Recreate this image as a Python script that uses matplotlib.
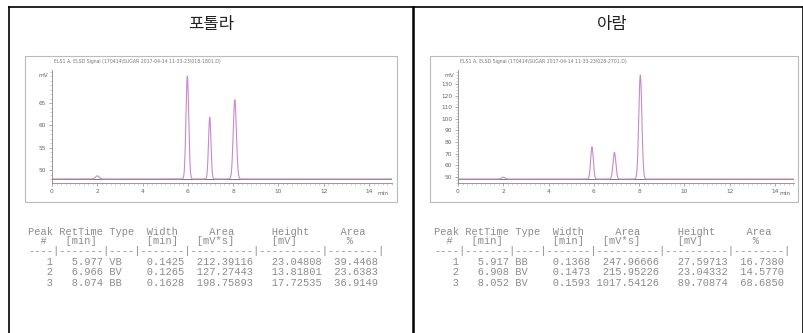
import numpy as np
import matplotlib
matplotlib.use("Agg")
import matplotlib.pyplot as plt
from matplotlib.lines import Line2D
from matplotlib.patches import Rectangle
from matplotlib.ticker import MultipleLocator

# ---------------- data ----------------
titles = ["포톨라", "아람"]
signal_names = [
    "ELS1 A, ELSD Signal (170414\\SUGAR 2017-04-14 11-33-23\\018-1801.D)",
    "ELS1 A, ELSD Signal (170414\\SUGAR 2017-04-14 11-33-23\\028-2701.D)",
]
peak_no = [1, 2, 3]
ret_left = [5.977, 6.966, 8.074]
type_left = ["VB", "BV", "BB"]
width_left = [0.1425, 0.1265, 0.1628]
area_left = [212.39116, 127.27443, 198.75893]
height_left = [23.04808, 13.81801, 17.72535]
pct_left = [39.4468, 23.6383, 36.9149]

ret_right = [5.917, 6.908, 8.052]
type_right = ["BB", "BV", "BV"]
width_right = [0.1368, 0.1473, 0.1593]
area_right = [247.96666, 215.95226, 1017.54126]
height_right = [27.59713, 23.04332, 89.70874]
pct_right = [16.7380, 14.5770, 68.6850]

baseline_mv = 48.0
minor_peak_time = [2.0, 2.0]
minor_peak_height = [0.7, 1.6]
ytick_left = [50, 55, 60, 65]
ytick_right = [50, 60, 70, 80, 90, 100, 110, 120, 130]
xticks = [0, 2, 4, 6, 8, 10, 12, 14]

# ---------------- layout helpers ----------------
W, H = 804, 333
fig = plt.figure(figsize=(W / 100, H / 100), dpi=100)
fig.patch.set_facecolor("white")


def fx(px):
    return px / W


def fy(py):
    return 1 - py / H


def fline(x0, y0, x1, y1, lw=1.0, color="black"):
    fig.add_artist(Line2D([fx(x0), fx(x1)], [fy(y0), fy(y1)], lw=lw, color=color,
                          transform=fig.transFigure))


# outer table borders
fline(9, 7, 804, 7, lw=1.2)
fline(9, 7, 9, 333, lw=1.2)
fline(413, 7, 413, 333, lw=1.8)
fline(803, 7, 803, 333, lw=1.2)

kr = ["Noto Sans CJK KR", "DejaVu Sans"]

panels = [
    dict(title=titles[0], cx=211, frame=(25, 56, 397, 202), ax=(52, 70, 392, 183),
         ylim=(47.1, 72.4), yt=ytick_left, yminor=1.0, sig=signal_names[0],
         ret=ret_left, typ=type_left, wid=width_left, area=area_left,
         hgt=height_left, pct=pct_left, tx=28, mp=0),
    dict(title=titles[1], cx=612, frame=(430, 56, 798, 202), ax=(458, 70, 794, 183),
         ylim=(44.6, 142.0), yt=ytick_right, yminor=2.5, sig=signal_names[1],
         ret=ret_right, typ=type_right, wid=width_right, area=area_right,
         hgt=height_right, pct=pct_right, tx=434, mp=1),
]

px_per_min = (369 - 52) / 14.0

for p in panels:
    fig.text(fx(p["cx"]), fy(25), p["title"], ha="center", va="center",
             fontsize=12, family=kr, color="#222222")
    x0, y0, x1, y1 = p["frame"]
    fig.add_artist(Rectangle((fx(x0), fy(y1)), fx(x1) - fx(x0), fy(y0) - fy(y1),
                             transform=fig.transFigure, fill=False,
                             edgecolor="#bbbbbb", lw=0.8))
    fig.text(fx(p["ax"][0] + 2), fy(61), p["sig"], ha="left", va="center",
             fontsize=3.3, color="#777777")

    a0, at, a1, ab = p["ax"]
    ax = fig.add_axes([fx(a0), fy(ab), fx(a1) - fx(a0), fy(at) - fy(ab)])
    ax.set_facecolor("none")
    xmax = (a1 - a0) / px_per_min
    ax.set_xlim(0, xmax)
    ax.set_ylim(*p["ylim"])
    for s in ["top", "right"]:
        ax.spines[s].set_visible(False)
    for s in ["left", "bottom"]:
        ax.spines[s].set_color("#888888")
        ax.spines[s].set_linewidth(0.6)

    # chromatogram trace from peak table (gaussian peaks)
    t = np.linspace(0, xmax, 4000)
    y = np.full_like(t, baseline_mv)
    for rt, w, h in zip(p["ret"], p["wid"], p["hgt"]):
        sd = w / 2.355
        y += h * np.exp(-0.5 * ((t - rt) / sd) ** 2)
    mt, mh = minor_peak_time[p["mp"]], minor_peak_height[p["mp"]]
    y += mh * np.exp(-0.5 * ((t - mt) / 0.08) ** 2)
    ax.axhline(baseline_mv, color="#777777", lw=0.7, zorder=1)
    ax.plot(t, y, color="#c88ac8", lw=0.8, zorder=2)

    ax.set_xticks(xticks)
    ax.set_xticklabels([str(v) for v in xticks])
    ax.xaxis.set_minor_locator(MultipleLocator(0.2))
    ax.set_yticks(p["yt"])
    ax.set_yticklabels([str(v) for v in p["yt"]])
    ax.yaxis.set_minor_locator(MultipleLocator(p["yminor"]))
    ax.tick_params(axis="both", which="major", labelsize=4.2, labelcolor="#666666",
                   color="#888888", length=2.5, width=0.5, pad=1.5)
    ax.tick_params(axis="both", which="minor", color="#aaaaaa", length=1.2, width=0.4)
    ax.text(-0.012, 0.955, "mV", transform=ax.transAxes, ha="right", va="center",
            fontsize=4.2, color="#666666")
    ax.text(0.99, -0.09, "min", transform=ax.transAxes, ha="right", va="center",
            fontsize=4.2, color="#666666")

    # peak table text
    lines = [
        "Peak RetTime Type  Width     Area      Height     Area",
        "  #   [min]        [min]   [mV*s]      [mV]        %",
        "----|-------|----|-------|----------|----------|--------|",
    ]
    for n, rt, ty, w, ar, h, pc in zip(peak_no, p["ret"], p["typ"], p["wid"],
                                       p["area"], p["hgt"], p["pct"]):
        lines.append(f"{n:4d} {rt:7.3f} {ty:<4s} {w:7.4f} {ar:10.5f} {h:10.5f} {pc:8.4f}")
    ys = [232, 241, 251, 262, 272, 283]
    for ln, yy in zip(lines, ys):
        fig.text(fx(p["tx"]), fy(yy), ln, ha="left", va="center",
                 fontsize=7.5, family="Liberation Mono", color="#8c8c8c")

fig.savefig("out.png", dpi=100, facecolor="white")
